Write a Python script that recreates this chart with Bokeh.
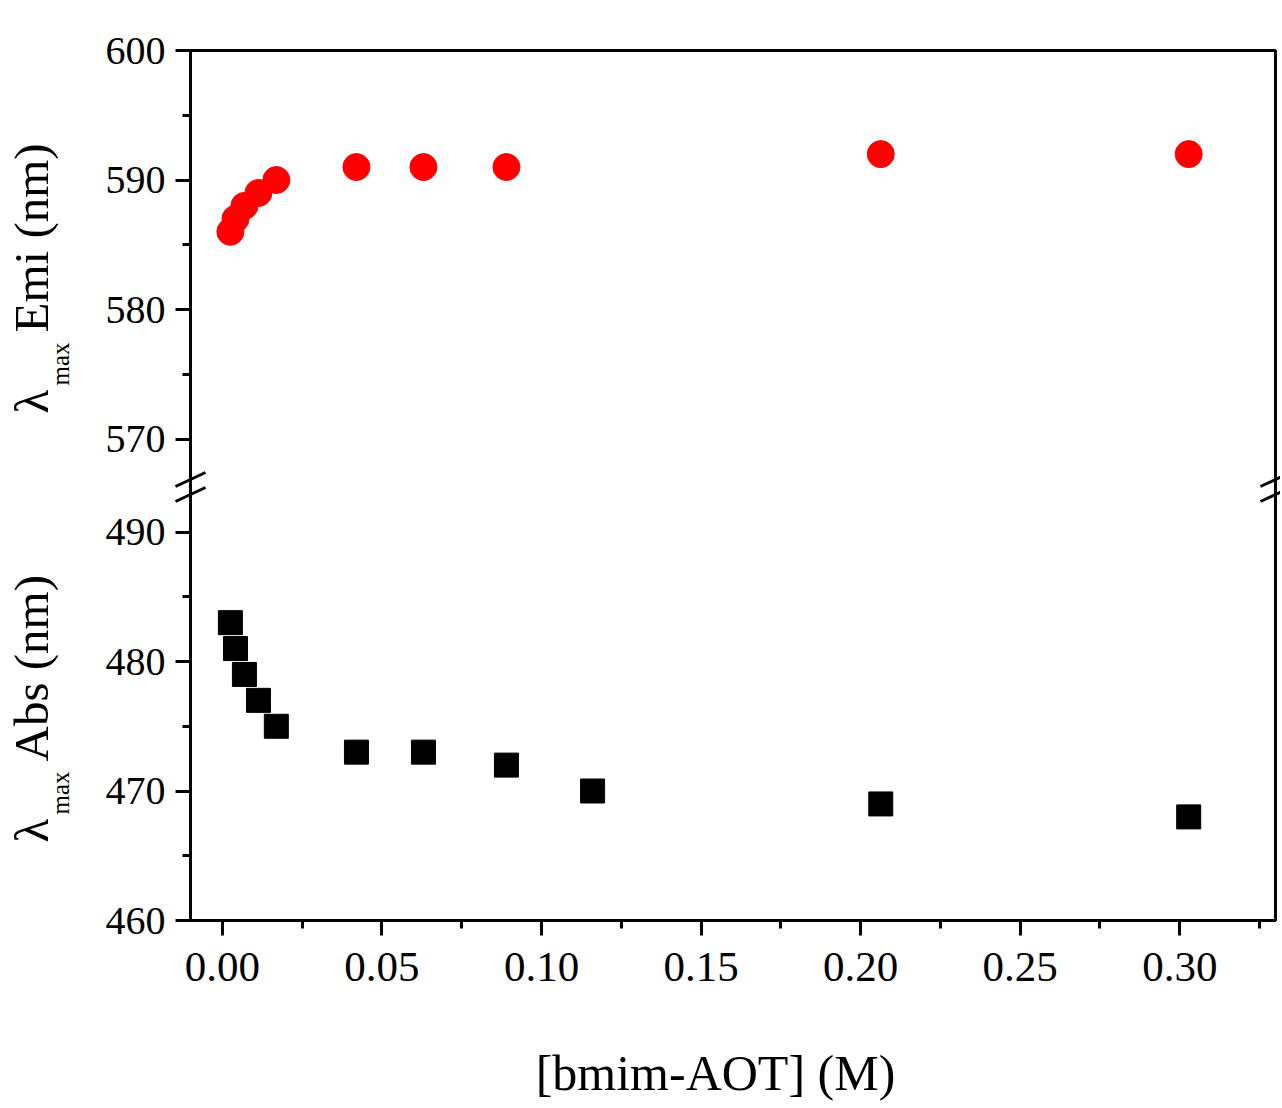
import math
from bokeh.plotting import figure
from bokeh.models import (Range1d, FixedTicker, CustomJSTickFormatter, Label,
                          PolyAnnotation, BoxAnnotation)
from bokeh.embed import file_html
from bokeh.resources import INLINE

# ---------------- data ----------------
CONC_ABS = [0.0025, 0.0041, 0.0069, 0.0113, 0.0169, 0.042, 0.063, 0.089, 0.116, 0.2063, 0.3028]
ABS_NM = [483, 481, 479, 477, 475, 473, 473, 472, 470, 469, 468]
CONC_EMI = [0.0025, 0.0041, 0.0069, 0.0113, 0.0169, 0.042, 0.063, 0.089, 0.2063, 0.3028]
EMI_NM = [586, 587, 588, 589, 590, 591, 591, 591, 592, 592]

X_TICKS = [0.0, 0.05, 0.10, 0.15, 0.20, 0.25, 0.30]
X_TICK_LABELS = ["0.00", "0.05", "0.10", "0.15", "0.20", "0.25", "0.30"]
X_MINOR = [0.025, 0.075, 0.125, 0.175, 0.225, 0.275, 0.325]
ABS_TICKS = [460, 470, 480, 490]
ABS_MINOR = [465, 475, 485]
EMI_TICKS = [570, 580, 590, 600]
EMI_MINOR = [575, 585, 595]

X_LABEL = "[bmim-AOT] (M)"
Y_TOP_LABEL = "Emi (nm)"
Y_BOT_LABEL = "Abs (nm)"

# ---------------- layout (picture pixels; canvas origin at top-left) ----------------
W, H = 1280, 1104
XL_PAGE, XR_PAGE = 190, 1275      # box left / right
YT_PAGE, YB_PAGE = 50, 920        # box top / bottom
X0, X1 = -0.01, 0.33
XPU = (XR_PAGE - XL_PAGE) / (X1 - X0)
PXU = 12.95
Y0 = 460
Y1 = Y0 + (YB_PAGE - YT_PAGE) / PXU
EMI_END = 600
OFFSET = EMI_END - Y1             # emi value - OFFSET -> main coordinate

def dx(px):
    return X0 + (px - XL_PAGE) / XPU

def dy(py):
    return Y0 + (YB_PAGE - py) / PXU

BREAK = dy(487)
SERIF = "Liberation Serif"

p = figure(width=W, height=H, output_backend="svg", toolbar_location=None,
           x_range=Range1d(dx(0), dx(W)), y_range=Range1d(dy(H), dy(0)),
           min_border=0)
p.extra_y_ranges = {"emi": Range1d(dy(H) + OFFSET, dy(0) + OFFSET)}
p.xgrid.visible = False
p.ygrid.visible = False
p.outline_line_color = None

for ax in (p.xaxis[0], p.yaxis[0]):
    ax.axis_line_width = 3
    ax.axis_line_color = "black"
    ax.major_tick_line_width = 3
    ax.minor_tick_line_width = 3
    ax.major_tick_out = 15
    ax.major_tick_in = 0
    ax.minor_tick_out = 8
    ax.minor_tick_in = 0
    ax.major_label_text_font = SERIF
    ax.major_label_text_color = "black"

xa = p.xaxis[0]
xa.fixed_location = Y0
xa.bounds = (X0, X1)
xa.ticker = FixedTicker(ticks=X_TICKS, minor_ticks=X_MINOR)
xa.major_label_overrides = {t: l for t, l in zip(X_TICKS, X_TICK_LABELS)}
xa.major_label_text_font_size = "43px"
xa.major_label_standoff = 17

ya = p.yaxis[0]
ya.fixed_location = X0
ya.bounds = (Y0, Y1)
ya.ticker = FixedTicker(ticks=ABS_TICKS + [v - OFFSET for v in EMI_TICKS],
                        minor_ticks=ABS_MINOR + [v - OFFSET for v in EMI_MINOR])
ya.formatter = CustomJSTickFormatter(args=dict(brk=BREAK, off=OFFSET),
                                     code="return (tick > brk ? tick + off : tick).toFixed(0);")
ya.major_label_text_font_size = "40px"
ya.major_label_standoff = 10

# frame box
p.add_layout(BoxAnnotation(left=X0, right=X1, bottom=Y0, top=Y1,
                           fill_alpha=0, fill_color=None, line_color="black",
                           line_width=3, line_alpha=1, level="underlay"))

p.scatter(x=CONC_ABS, y=ABS_NM, marker="square", size=24, color="black")
p.scatter(x=CONC_EMI, y=EMI_NM, marker="circle", size=27, color="red",
          y_range_name="emi")

# axis-break marks on left and right box edges
for fx in (XL_PAGE, XR_PAGE):
    for cy in (479, 494):
        p.add_layout(PolyAnnotation(xs=[dx(fx - 15), dx(fx + 15)],
                                    ys=[dy(cy + 7), dy(cy - 7)],
                                    line_color="black", line_width=3, line_alpha=1,
                                    fill_alpha=0, level="overlay"))

# rotated y titles with "max" subscript
def ylabel(text, lam_start):
    common = dict(angle=math.pi / 2, text_font=SERIF, text_align="left",
                  text_baseline="alphabetic", text_color="black")
    p.add_layout(Label(x=dx(31), y=dy(lam_start), text="\u03bb",
                       text_font_size="49px", **common))
    p.add_layout(Label(x=dx(60), y=dy(lam_start - 28), text="max",
                       text_font_size="25px", **common))
    p.add_layout(Label(x=dx(31), y=dy(lam_start - 81), text=text,
                       text_font_size="49px", **common))

ylabel(Y_TOP_LABEL, 413)
ylabel(Y_BOT_LABEL, 842)

# x title
p.add_layout(Label(x=dx(715), y=dy(1072), text=X_LABEL, text_font=SERIF,
                   text_font_size="50px", text_align="center",
                   text_baseline="alphabetic", text_color="black"))

open("out.html", "w").write(file_html(p, INLINE))
